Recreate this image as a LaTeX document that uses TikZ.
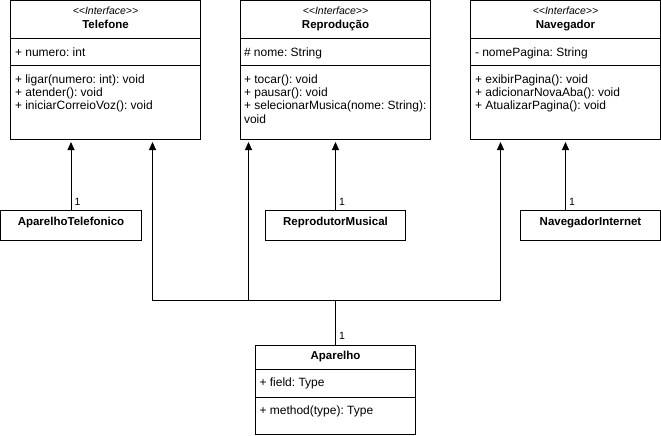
\documentclass[tikz,border=0pt]{standalone}
\usepackage{fontspec}
\setmainfont{Liberation Sans}
\usetikzlibrary{positioning,calc,arrows.meta}
\frenchspacing

\begin{document}
\begin{tikzpicture}[x=1pt,y=-1pt,line width=1pt,
		classbox/.style={draw,rectangle,inner sep=0,line width=1pt},
		member/.style={anchor=base west,inner sep=0,font=\fontsize{12}{14}\selectfont},
		title/.style={anchor=base,inner sep=0,font=\fontsize{11.5}{14}\selectfont\bfseries},
		stereo/.style={anchor=base,inner sep=0,font=\fontsize{10.5}{12}\selectfont\itshape},
		mult/.style={anchor=south west,inner sep=0,font=\fontsize{10.5}{12}\selectfont},
		inherit/.style={-{Triangle[width=7pt,length=8pt]},shorten >=2pt}]
		
		\useasboundingbox (0,0) rectangle (661,436);
		
		% interfaces
		\node[classbox,minimum width=190,minimum height=139] (telefone) at (105.5,70) {};
		\draw ([yshift=-39]telefone.north west) -- ([yshift=-39]telefone.north east);
		\draw ([yshift=-66]telefone.north west) -- ([yshift=-66]telefone.north east);
		\node[stereo] (telefone-st) at (105.5,15) {<\kern0pt<Interface>\kern0pt>};
		\node[title] (telefone-t) at (105.5,29) {Telefone};
		\node[member] (telefone-a) at (14.5,57) {+ numero: int};
		\node[member] (telefone-m1) at (14.5,83.5) {+ ligar(numero: int): void};
		\node[member] (telefone-m2) at (14.5,96.7) {+ atender(): void};
		\node[member] (telefone-m3) at (14.5,109.9) {+ iniciarCorreioVoz(): void};
		
		\node[classbox,minimum width=190,minimum height=139] (reproducao) at (335.5,70) {};
		\draw ([yshift=-39]reproducao.north west) -- ([yshift=-39]reproducao.north east);
		\draw ([yshift=-66]reproducao.north west) -- ([yshift=-66]reproducao.north east);
		\node[stereo] (reproducao-st) at (335.5,15) {<\kern0pt<Interface>\kern0pt>};
		\node[title] (reproducao-t) at (335.5,29) {Reprodução};
		\node[member] (reproducao-a) at (243.5,57) {\# nome: String};
		\node[member] (reproducao-m1) at (243.5,83.5) {+ tocar(): void};
		\node[member] (reproducao-m2) at (243.5,96.7) {+ pausar(): void};
		\node[member] (reproducao-m3) at (243.5,109.9) {+ selecionarMusica(nome: String):};
		\node[member] (reproducao-m3b) at (243.5,123.1) {void};
		
		\node[classbox,minimum width=190,minimum height=139] (navegador) at (565.5,70) {};
		\draw ([yshift=-39]navegador.north west) -- ([yshift=-39]navegador.north east);
		\draw ([yshift=-66]navegador.north west) -- ([yshift=-66]navegador.north east);
		\node[stereo] (navegador-st) at (565.5,15) {<\kern0pt<Interface>\kern0pt>};
		\node[title] (navegador-t) at (565.5,29) {Navegador};
		\node[member] (navegador-a) at (474.5,57) {- nomePagina: String};
		\node[member] (navegador-m1) at (474.5,83.5) {+ exibirPagina(): void};
		\node[member] (navegador-m2) at (474.5,96.7) {+ adicionarNovaAba(): void};
		\node[member] (navegador-m3) at (474.5,109.9) {+ AtualizarPagina(): void};
		
		% classes
		\node[classbox,minimum width=141,minimum height=30] (aptel) at (71,225.5) {};
		\node[title] (aptel-t) at (71,225) {AparelhoTelefonico};
		\node[classbox,minimum width=140,minimum height=30] (repmus) at (335.5,225.5) {};
		\node[title] (repmus-t) at (335.5,225) {ReprodutorMusical};
		\node[classbox,minimum width=140,minimum height=30] (navint) at (590.5,225.5) {};
		\node[title] (navint-t) at (590.5,225) {NavegadorInternet};
		
		\node[classbox,minimum width=160,minimum height=89] (aparelho) at (335.5,390) {};
		\draw ([yshift=-24]aparelho.north west) -- ([yshift=-24]aparelho.north east);
		\draw ([yshift=-52]aparelho.north west) -- ([yshift=-52]aparelho.north east);
		\node[title] (aparelho-t) at (335.5,359) {Aparelho};
		\node[member] (aparelho-a) at (259,386.5) {+ field: Type};
		\node[member] (aparelho-m) at (259,414) {+ method(type): Type};
		
		% connectors
		\draw[inherit] (aptel.north) -- (aptel.north |- telefone.south);
		\node[mult] (aptel-1) at ([xshift=3,yshift=4]aptel.north) {1};
		\draw[inherit] (repmus.north) -- (reproducao.south);
		\node[mult] (repmus-1) at ([xshift=3,yshift=4]repmus.north) {1};
		\draw[inherit] ([xshift=-25]navint.north) -- ([xshift=-25]navint.north |- navegador.south);
		\node[mult] (navint-1) at ([xshift=-22,yshift=4]navint.north) {1};
		
		\coordinate (bus) at (335.5,300.5);
		\draw[inherit] (aparelho.north) -- (bus) -| ([xshift=47]telefone.south);
		\draw[inherit] (bus) -| ([xshift=-87]reproducao.south);
		\draw[inherit] (bus) -| ([xshift=-65]navegador.south);
		\node[mult] (aparelho-1) at ([xshift=3,yshift=5]aparelho.north) {1};
	\end{tikzpicture}
\end{document}
